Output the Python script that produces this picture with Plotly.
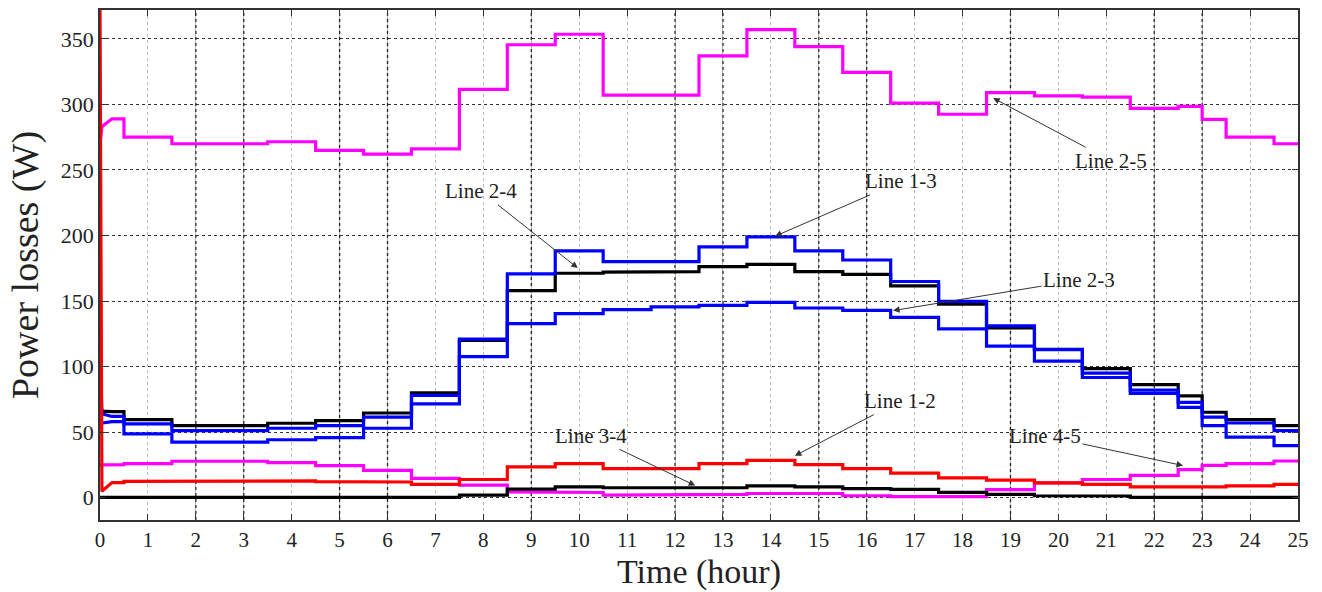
import plotly.graph_objects as go

# Dispatch step boundaries (hours); the profile changes on the half hour, plus at 23 h
STEP_EDGES = [0, 0.5, 1.5, 2.5, 3.5, 4.5, 5.5, 6.5, 7.5, 8.5, 9.5, 10.5, 11.5,
              12.5, 13.5, 14.5, 15.5, 16.5, 17.5, 18.5, 19.5, 20.5, 21.5, 22.5,
              23, 23.5, 24.5, 25]

# Start-up transient sample times (hours)
START_T = [0, 0.04, 0.25]

# Power losses per step interval (W)
LOSS_25 = [289, 275, 270, 270, 271.5, 265, 262, 266, 311.5, 345.5, 353.5, 307,
           307, 337, 357, 344, 324.5, 301, 292.5, 309, 306.5, 305.5, 297,
           298.5, 288.5, 275, 270]
LOSS_13 = [62, 56.3, 51.2, 51.2, 53, 55, 61.4, 78, 121, 170.7, 188.3, 180, 180,
           191.4, 199, 188.3, 181.3, 164.9, 149.7, 131, 113, 95, 82, 72.7,
           61.4, 57, 51.2]
LOSS_23 = [58, 48.7, 42.4, 42.4, 44.2, 45.8, 53, 71.5, 107.6, 132.8, 140.4,
           143.4, 145.5, 146.7, 149, 144.7, 142.9, 137.6, 128.8, 115.6, 104.2,
           91.7, 79.5, 68.9, 55, 46.2, 39.8]
LOSS_24 = [65.6, 59.5, 55, 55, 56.8, 58.8, 64.6, 80, 120, 158, 171.2, 172,
           172.5, 176.2, 178, 172.5, 170.4, 161.6, 147.7, 129.5, 113.1, 98.5,
           86.3, 77.7, 65.2, 59.5, 55]
LOSS_12 = [11.5, 12.5, 13, 13, 12.8, 12.3, 12, 10.2, 13.9, 23.5, 26, 22.2, 22.2,
           26, 28.5, 25.2, 22.2, 18.7, 15.2, 13.4, 11.3, 10.1, 8.3, 8.0, 8.3,
           9.1, 10.1]
LOSS_45 = [25.2, 26, 27.8, 27.8, 26.8, 24.4, 20.8, 14.8, 9.6, 4.5, 4, 2, 2, 2.5,
           3.2, 3.2, 1.5, 0.8, 0.8, 6.2, 11.3, 13.9, 17.1, 21.4, 24.7, 26, 28]
LOSS_34 = [0.3, 0.3, 0.3, 0.3, 0.3, 0.3, 0.3, 0.3, 2, 6.5, 8.3, 7.6, 7.2, 7.6,
           9.1, 8.3, 7, 6.3, 4, 2.5, 1.5, 1.3, 0.2, 0.2, 0.2, 0.2, 0.2]

# Start-up transient values at START_T (W)
START_25 = [270, 283, 289]
START_13 = [113, 64, 62]
START_23 = [60, 57, 58]
START_24 = [76, 66, 65.6]
START_12 = [380, 5, 11.5]
START_45 = [25, 25, 25.2]
START_34 = [0.3, 0.3, 0.3]

# Series drawn bottom-to-top: (levels, start transient, colour)
SERIES = [
    (LOSS_25, START_25, "#ff00ff"),
    (LOSS_45, START_45, "#ff00ff"),
    (LOSS_34, START_34, "#000000"),
    (LOSS_24, START_24, "#000000"),
    (LOSS_23, START_23, "#0000ff"),
    (LOSS_13, START_13, "#0000ff"),
    (LOSS_12, START_12, "#ff0000"),
]

# Callout labels: text, arrow tip (hour, W), label centre (hour, W)
LABELS = ["Line 2-5", "Line 1-3", "Line 2-4", "Line 2-3", "Line 1-2", "Line 3-4", "Line 4-5"]
TIP_X = [18.64, 14.09, 9.97, 16.55, 14.5, 12.42, 22.6]
TIP_Y = [304.8, 199.5, 175.2, 142.7, 32, 9.3, 24.5]
TEXT_X = [21.1, 16.72, 7.95, 20.43, 16.69, 10.25, 19.72]
TEXT_Y = [257, 241.3, 233.6, 166.1, 73.7, 47.2, 47.2]

X_TICKS = list(range(0, 26))
Y_TICKS = [0, 50, 100, 150, 200, 250, 300, 350]
DARK_GRID_HOURS = [2, 3, 5, 6, 9, 12, 13, 15, 16, 19, 22, 23]

SERIF = "Liberation Serif, Times New Roman, serif"


def step_path(start_vals, levels):
    xs = list(START_T)
    ys = list(start_vals)
    for i, v in enumerate(levels):
        xs += [max(STEP_EDGES[i], START_T[-1]), STEP_EDGES[i + 1]]
        ys += [v, v]
    return xs, ys


fig = go.Figure()
for levels, start, color in SERIES:
    xs, ys = step_path(start, levels)
    fig.add_trace(go.Scatter(x=xs, y=ys, mode="lines",
                             line=dict(color=color, width=3.2),
                             showlegend=False, hoverinfo="skip"))

for hx in DARK_GRID_HOURS:
    fig.add_shape(type="line", x0=hx, x1=hx, y0=0, y1=1, xref="x", yref="paper",
                  line=dict(color="#222222", width=1.3, dash="dot"), layer="between")

for txt, tx, ty, lx, ly in zip(LABELS, TIP_X, TIP_Y, TEXT_X, TEXT_Y):
    fig.add_annotation(x=tx, y=ty, ax=lx, ay=ly, xref="x", yref="y",
                       axref="x", ayref="y", text=txt, showarrow=True,
                       arrowhead=2, arrowsize=1.3, arrowwidth=1,
                       arrowcolor="#333333", standoff=0,
                       font=dict(family=SERIF, size=21, color="#222222"))

fig.update_layout(
    width=1322, height=592,
    margin=dict(l=100, r=24, t=8, b=70),
    paper_bgcolor="white", plot_bgcolor="white",
    font=dict(family=SERIF, color="#222222"),
    xaxis=dict(
        range=[0, 25], tickvals=X_TICKS, ticks="inside", ticklen=6,
        tickcolor="#333333", showline=True, linecolor="#333333", linewidth=1.5,
        mirror="ticks", showgrid=True, gridcolor="#b8b8b8", griddash="dot",
        gridwidth=1, zeroline=False, tickfont=dict(size=21),
        title=dict(text="Time (hour)", font=dict(size=34), standoff=8),
    ),
    yaxis=dict(
        range=[-17, 372], tickvals=Y_TICKS, ticks="inside", ticklen=6,
        tickcolor="#333333", showline=True, linecolor="#333333", linewidth=1.5,
        mirror="ticks", showgrid=True, gridcolor="#333333", griddash="dot",
        gridwidth=1, zeroline=False, tickfont=dict(size=22),
        title=dict(text="Power losses (W)", font=dict(size=38), standoff=11),
    ),
)

fig.write_html("out.html")
